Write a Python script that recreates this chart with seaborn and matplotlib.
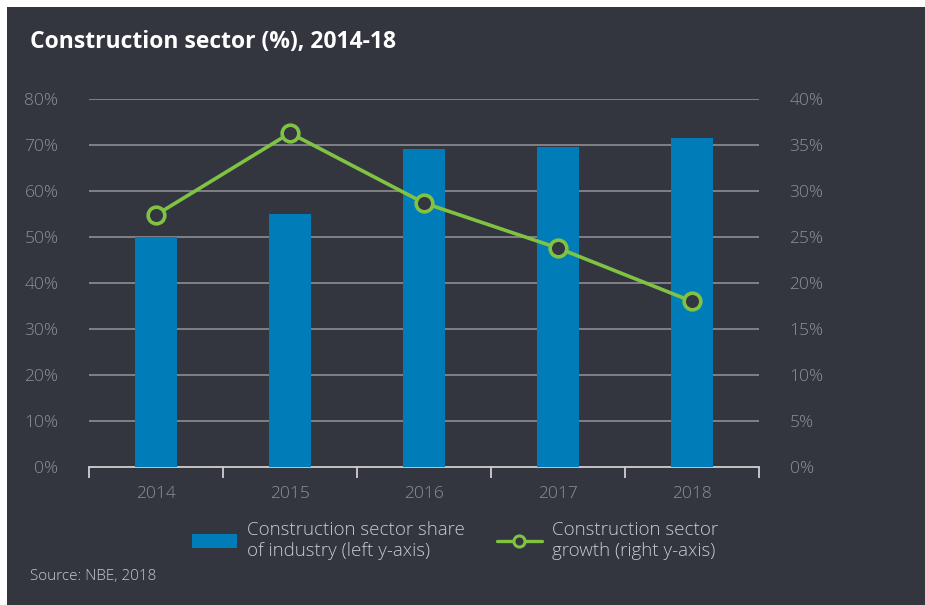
import matplotlib
matplotlib.use("Agg")
import matplotlib.pyplot as plt
from matplotlib.patches import Rectangle, Patch
from matplotlib.lines import Line2D
from matplotlib.ticker import FuncFormatter, MultipleLocator
import seaborn as sns
import pandas as pd

years = ["2014", "2015", "2016", "2017", "2018"]
share = [50.0, 54.9, 69.1, 69.5, 71.5]
growth = [27.4, 36.3, 28.7, 23.8, 18.0]

bg = "#33353F"
bar_c = "#007DB8"
line_c = "#80C342"
tick_c = "#8E9099"
grid_c = "#85878C"
leg_c = "#C9CACF"

sns.set_theme(style="white")
plt.rcParams["font.family"] = ["Open Sans", "DejaVu Sans"]
plt.rcParams["font.weight"] = "light"

df = pd.DataFrame({"year": years, "share": share, "growth": growth})

fig = plt.figure(figsize=(9.25, 6.05), dpi=100)
fig.patch.set_facecolor("white")
fig.add_artist(Rectangle((7 / 925, 0), 1, 1 - 7 / 605, transform=fig.transFigure,
                         facecolor=bg, edgecolor="none", zorder=-10))

ax = fig.add_axes([89 / 925, 1 - 467 / 605, 670 / 925, 368 / 605])
ax.set_facecolor("none")
sns.barplot(data=df, x="year", y="share", color=bar_c, width=0.31, saturation=1,
            linewidth=0, edgecolor=bar_c, ax=ax, zorder=3)
ax.set_ylim(0, 80)
ax.set_xlim(-0.5, 4.5)
ax.yaxis.set_major_locator(MultipleLocator(10))
ax.yaxis.set_major_formatter(FuncFormatter(lambda v, p: f"{v:.0f}%"))
for v in range(10, 81, 10):
    ax.axhline(v, color=grid_c, lw=1.3, zorder=1)
for s in ["top", "right", "left"]:
    ax.spines[s].set_visible(False)
ax.spines["bottom"].set_color("#D0D0D0")
ax.spines["bottom"].set_linewidth(1.3)
ax.set_xlabel("")
ax.set_ylabel("")
ax.set_xticks([0, 1, 2, 3, 4])
ax.set_xticks([-0.5, 0.5, 1.5, 2.5, 3.5, 4.5], minor=True)
ax.tick_params(axis="x", which="major", bottom=False, length=0, pad=14, labelsize=12.5,
               labelcolor=tick_c)
ax.tick_params(axis="x", which="minor", bottom=True, length=8, width=1.3, color="#D0D0D0",
               direction="out")
ax.tick_params(axis="y", length=0, pad=22, labelsize=12.5, labelcolor=tick_c)

ax2 = ax.twinx()
ax2.set_facecolor("none")
sns.lineplot(data=df, x="year", y="growth", color=line_c, lw=2.6, marker="o",
             markersize=12, markerfacecolor=bg, markeredgecolor=line_c,
             markeredgewidth=2.6, ax=ax2, zorder=5)
ax2.set_ylim(0, 40)
ax2.set_xlim(-0.5, 4.5)
ax2.yaxis.set_major_locator(MultipleLocator(5))
ax2.yaxis.set_major_formatter(FuncFormatter(lambda v, p: f"{v:.0f}%"))
for s in ["top", "right", "left", "bottom"]:
    ax2.spines[s].set_visible(False)
ax2.tick_params(axis="y", length=0, pad=22, labelsize=12.5, labelcolor=tick_c)
ax2.set_ylabel("")
ax2.set_xlabel("")
ax2.grid(False)
ax.grid(False)

h_bar = Patch(facecolor=bar_c, edgecolor="none")
h_line = Line2D([], [], color=line_c, lw=2.4, marker="o", markersize=8,
                markerfacecolor=bg, markeredgecolor=line_c, markeredgewidth=2.2)
fig.legend([h_bar, h_line],
           ["Construction sector share\nof industry (left y-axis)",
            "Construction sector\ngrowth (right y-axis)"],
           loc="upper left", bbox_to_anchor=(175 / 925, 1 - 504 / 605),
           ncol=2, frameon=False, fontsize=13.5, labelcolor=leg_c,
           handlelength=2.4, handleheight=0.75, columnspacing=1.7, handletextpad=0.55,
           labelspacing=0.4)

fig.text(30 / 925, 1 - 42 / 605, "Construction sector (%), 2014-18", color="white",
         fontsize=16.5, fontweight="bold", va="center", ha="left")
fig.text(30 / 925, 1 - 576 / 605, "Source: NBE, 2018", color=leg_c, fontsize=11,
         va="center", ha="left")

fig.savefig("out.png", dpi=100, facecolor=fig.get_facecolor())
